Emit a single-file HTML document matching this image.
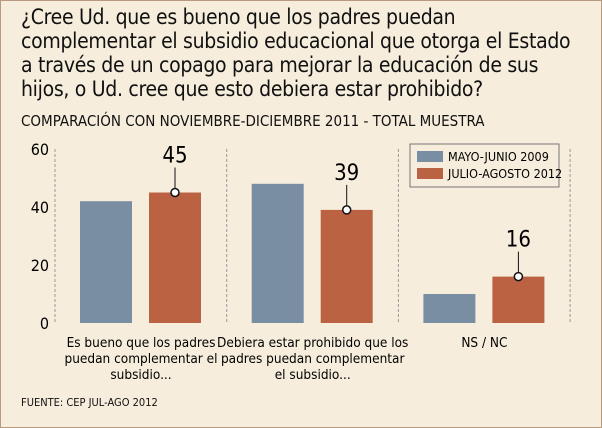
<!DOCTYPE html>
<html><head><meta charset="utf-8"><style>
body{margin:0;background:#fff}
#c{position:relative;width:600px;height:426px;border:1px solid #b89a80;background:#f6eddc;font-family:"DejaVu Sans Condensed","Liberation Sans Narrow","Liberation Sans",sans-serif;color:#111;overflow:hidden}
#t{position:absolute;left:20px;top:4px;font-size:21px;line-height:24px;letter-spacing:-0.3px}
#st{position:absolute;left:20px;top:111px;font-size:15px}
#f{position:absolute;left:20px;top:395px;font-size:11px}
</style></head><body>
<div id="c">
<div id="t">¿Cree Ud. que es bueno que los padres puedan<br>complementar el subsidio educacional que otorga el Estado<br>a través de un copago para mejorar la educación de sus<br>hijos, o Ud. cree que esto debiera estar prohibido?</div>
<div id="st">COMPARACIÓN CON NOVIEMBRE-DICIEMBRE 2011 - TOTAL MUESTRA</div>
<div id="f">FUENTE: CEP JUL-AGO 2012</div>
<svg id="s" width="600" height="426" style="position:absolute;left:0;top:0"></svg>
</div>
<script>
const categories=[["Es bueno que los padres","puedan complementar el","subsidio..."],["Debiera estar prohibido que los","padres puedan complementar","el subsidio..."],["NS / NC"]];
const series1=[42,48,10];
const series2=[45,39,16];
const seriesNames=["MAYO-JUNIO 2009","JULIO-AGOSTO 2012"];
const yTicks=[0,20,40,60];
const s=document.getElementById('s');const NS='http://www.w3.org/2000/svg';
function y(v){return 322-v*2.9;}
function gx(i){return 54+i*171.7;}
function mk(tag,at,txt){const e=document.createElementNS(NS,tag);for(const k in at)e.setAttribute(k,at[k]);if(txt!=null)e.textContent=txt;s.appendChild(e);return e;}
const F='"DejaVu Sans Condensed","Liberation Sans Narrow","Liberation Sans",sans-serif';
yTicks.forEach(v=>{const e=mk('text',{x:48,y:y(v)+6,'text-anchor':'end','font-size':16,'font-family':F},v);

});
for(let i=0;i<=3;i++){const e=mk('line',{x1:gx(i),x2:gx(i),y1:148,y2:322,stroke:'#999','stroke-dasharray':'3,2'});

}
categories.forEach((c,i)=>{
const x0=gx(i);
const b1=mk('rect',{x:x0+25,y:y(series1[i]),width:52,height:y(0)-y(series1[i]),fill:'#7a8ea3'});


const b2=mk('rect',{x:x0+94,y:y(series2[i]),width:52,height:y(0)-y(series2[i]),fill:'#bb6243'});


const cx=x0+120;
const ln=mk('line',{x1:cx,x2:cx,y1:y(series2[i])-25,y2:y(series2[i]),stroke:'#111'});


const dt=mk('circle',{cx:cx,cy:y(series2[i]),r:4,fill:'#fff',stroke:'#111','stroke-width':1.5});


const vl=mk('text',{x:cx,y:y(series2[i])-30,'text-anchor':'middle','font-size':22,'font-family':F},series2[i]);


c.forEach((l,j)=>{const t=mk('text',{x:x0+86,y:346+j*16,'text-anchor':'middle','font-size':13.5,'font-family':F},l);

});
});
const lg=mk('rect',{x:409,y:143,width:149,height:43,fill:'none',stroke:'#777'});


const cols=['#7a8ea3','#bb6243'];
seriesNames.forEach((n,i)=>{
const r=mk('rect',{x:416,y:150+i*17,width:26,height:11,fill:cols[i]});


const t=mk('text',{x:447,y:160+i*17,'font-size':12.5,'font-family':F},n);


});
</script>
</body></html>
